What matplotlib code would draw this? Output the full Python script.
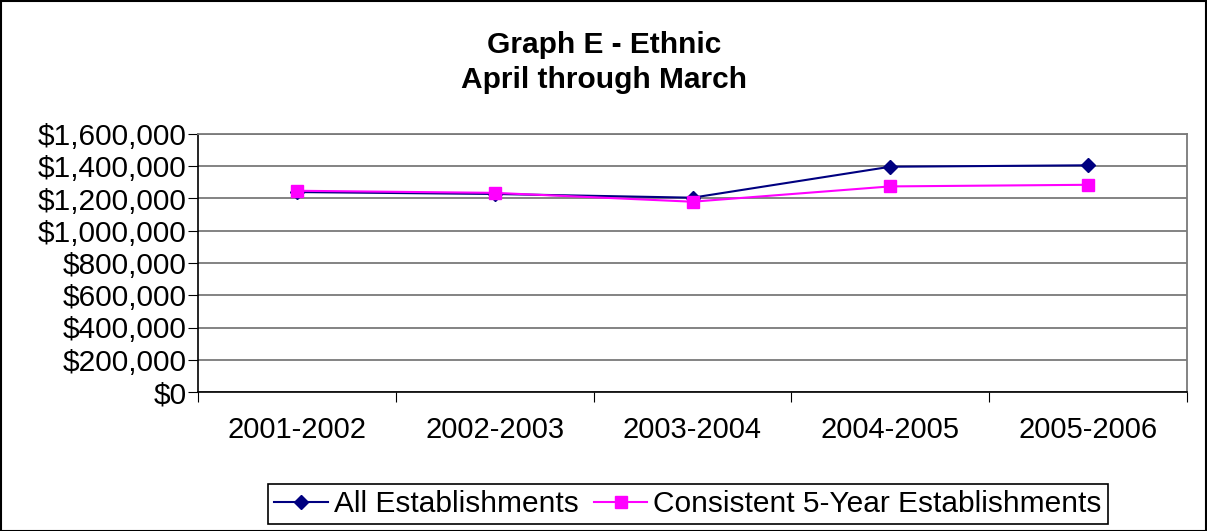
import matplotlib
matplotlib.use("Agg")
import matplotlib.pyplot as plt
from matplotlib.patches import Rectangle
from matplotlib.ticker import FuncFormatter, FixedLocator

periods = ["2001-2002", "2002-2003", "2003-2004", "2004-2005", "2005-2006"]
all_est = [1240000, 1228000, 1205000, 1397000, 1406000]
consistent = [1248000, 1235000, 1180000, 1275000, 1285000]
y_ticks = [0, 200000, 400000, 600000, 800000, 1000000, 1200000, 1400000, 1600000]

plt.rcParams['font.family'] = ['Liberation Sans', 'DejaVu Sans']

W, H = 1207, 531
fig = plt.figure(figsize=(W / 100, H / 100), dpi=100)
ax = fig.add_axes([198 / W, 1 - 392 / H, (1187 - 198) / W, (392 - 134) / H])

x = range(len(periods))
ax.plot(x, all_est, color='#000080', marker='D', markersize=7, linewidth=1.5,
        label='All Establishments', zorder=3)
ax.plot(x, consistent, color='#FF00FF', marker='s', markersize=8, linewidth=1.5,
        label='Consistent 5-Year Establishments', zorder=3)

ax.set_xlim(-0.5, len(periods) - 0.5)
ax.set_ylim(0, 1600000)
ax.set_yticks(y_ticks)
ax.yaxis.set_major_formatter(FuncFormatter(lambda v, p: "${:,.0f}".format(v)))
ax.grid(axis='y', color='#7a7a7a', linewidth=1.3)
ax.set_axisbelow(True)

# category boundaries get the tick marks, labels sit between them
ax.xaxis.set_major_locator(FixedLocator([i - 0.5 for i in range(len(periods) + 1)]))
ax.xaxis.set_minor_locator(FixedLocator(list(x)))
ax.set_xticklabels([""] * (len(periods) + 1))
ax.set_xticklabels(periods, minor=True)
ax.tick_params(axis='x', which='major', length=7, direction='out', color='black')
ax.tick_params(axis='x', which='minor', length=0, pad=17, labelsize=21)
ax.tick_params(axis='y', length=7, direction='out', labelsize=21.5, pad=1)

for s in ['top', 'right']:
    ax.spines[s].set_color('#7a7a7a')
    ax.spines[s].set_linewidth(1.3)
for s in ['left', 'bottom']:
    ax.spines[s].set_color('black')
    ax.spines[s].set_linewidth(1.2)

fig.text(604 / W, 1 - 45 / H, "Graph E - Ethnic", ha='center', va='center',
         fontsize=21.5, fontweight='bold')
fig.text(604 / W, 1 - 80 / H, "April through March", ha='center', va='center',
         fontsize=21.5, fontweight='bold')

leg = fig.legend(loc='center', bbox_to_anchor=(688 / W, 1 - 504 / H), ncol=2,
                 fontsize=21.5, frameon=True, fancybox=False, edgecolor='black',
                 framealpha=1, handlelength=1.8, handletextpad=0.2,
                 columnspacing=0.5, borderpad=0.2, borderaxespad=0)
leg.get_frame().set_linewidth(1.2)

fig.patches.append(Rectangle((0.5 / W, 0.5 / H), 1 - 1.5 / W, 1 - 1.5 / H,
                             transform=fig.transFigure, fill=False,
                             edgecolor='black', linewidth=1.5))

fig.savefig("out.png", dpi=100)
